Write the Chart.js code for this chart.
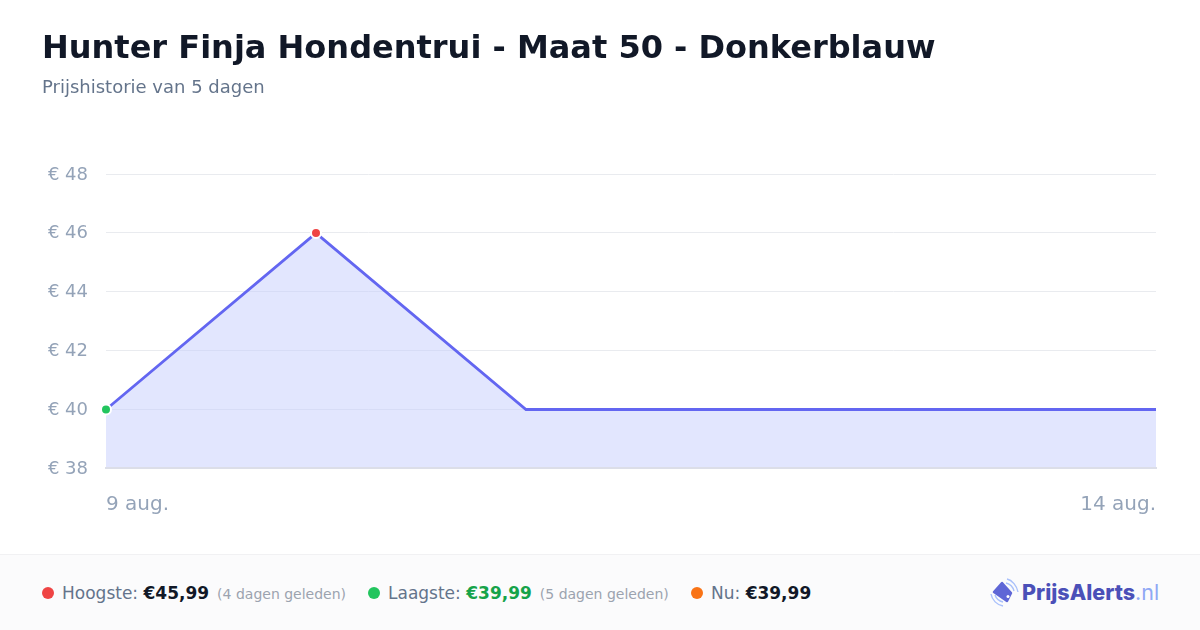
<!DOCTYPE html>
<html lang="nl"><head><meta charset="utf-8">
<script src="https://cdn.jsdelivr.net/npm/chart.js@4"></script>
<style>
html,body{margin:0;padding:0;background:#fff;width:1200px;height:630px;overflow:hidden;font-family:"DejaVu Sans",sans-serif}
#wrap{position:absolute;left:0;top:0;width:1200px;height:630px}
canvas{position:absolute;left:0;top:0}
h1{position:absolute;left:42px;top:28px;margin:0;font-size:32px;line-height:38px;font-weight:700;color:#111827;white-space:nowrap}
#sub{position:absolute;left:42px;top:76px;font-size:18px;line-height:22px;color:#64748b;white-space:nowrap}
#foot{position:absolute;left:0;top:554px;width:1200px;height:76px;background:#fbfbfc;border-top:1px solid #f1f1f3;box-sizing:border-box}
.it{position:absolute;top:27px;font-size:17px;line-height:22px;color:#64748b;white-space:nowrap}
.it b{font-weight:700;color:#111827;font-size:17px}
.it small{font-size:14px;color:#9ca3af;margin-left:2.6px}
.dot{position:absolute;top:32px;width:12px;height:12px;border-radius:50%}
#logo{position:absolute;left:1022px;top:23px;font-family:Inter,sans-serif;font-weight:800;font-size:21.5px;line-height:28px;color:#4b50b8;white-space:nowrap}
#logo span{font-weight:400;color:#8fa8f5}
svg{position:absolute;left:988px;top:22px}
</style></head><body>
<div id="wrap"><canvas id="c" width="1200" height="630"></canvas>
<h1>Hunter Finja Hondentrui - Maat 50 - Donkerblauw</h1>
<div id="sub">Prijshistorie van 5 dagen</div>
<div id="foot">
<div class="dot" style="left:42px;background:#ef4444"></div>
<div class="it" style="left:62px">Hoogste: <b>€45,99</b> <small>(4 dagen geleden)</small></div>
<div class="dot" style="left:368px;background:#22c55e"></div>
<div class="it" style="left:388px">Laagste: <b style="color:#16a34a">€39,99</b> <small>(5 dagen geleden)</small></div>
<div class="dot" style="left:691px;background:#f97316"></div>
<div class="it" style="left:711px">Nu: <b>€39,99</b></div>
<svg width="32" height="32" viewBox="0 0 32 32" fill="none">
<path d="M14 6 L23 16 L19 24 L6 15 Z" fill="#5f66d6" stroke="#5f66d6" stroke-width="2.5" stroke-linejoin="round"/>
<circle cx="20" cy="19.5" r="1.5" fill="#fff"/>
<path d="M19 2 C24 3 29 9 30 15" stroke="#a9c0fb" stroke-width="1.4"/>
<path d="M18 6 C22 7 25 10 26 14" stroke="#a9c0fb" stroke-width="1.4"/>
<path d="M7 18 C8 21 11 24 15 25" stroke="#a9c0fb" stroke-width="1.4"/>
<path d="M3 17 C4 23 9 28 15 29" stroke="#a9c0fb" stroke-width="1.4"/>
</svg>
<div id="logo">PrijsAlerts<span>.nl</span></div>
</div></div>
<script>
const categories=['9 aug.','10 aug.','11 aug.','12 aug.','13 aug.','14 aug.'];
const prices=[39.99,45.99,39.99,39.99,39.99,39.99];
const pointColors=['#22c55e','#ef4444','#6366f1','#6366f1','#6366f1','#6366f1'];
const pointRadii=[5,5,0,0,0,0];
const yMin=38,yMax=48,yStep=2;
const nudgeYLabels={id:'nudgeYLabels',beforeDraw(chart){
  chart.scales.y.getLabelItems().forEach(item=>{item.options.translation[1]+=1;});
}};
new Chart(document.getElementById('c'),{
 type:'line',
 plugins:[nudgeYLabels],
 data:{labels:categories,datasets:[{data:prices,borderColor:'#6366f1',borderWidth:2.8,tension:0,
  backgroundColor:'rgba(197,205,254,0.5)',fill:'origin',pointBackgroundColor:pointColors,pointBorderColor:'#ffffff',
  pointBorderWidth:2,pointRadius:pointRadii,pointHoverRadius:pointRadii,clip:false}]},
 options:{responsive:false,animation:false,
  layout:{padding:{left:42,right:44,top:174,bottom:110}},
  plugins:{legend:{display:false},tooltip:{enabled:false},title:{display:false}},
  scales:{
   x:{grid:{display:false},border:{display:true,color:'#dcdee8',width:2,z:1},
    afterFit(s){s.height=52},
    ticks:{autoSkip:false,maxRotation:0,align:'inner',padding:17,color:'#94a3b8',font:{family:'DejaVu Sans',size:20},
     callback(v,i,t){return (i===0||i===t.length-1)?this.getLabelForValue(v):''}}},
   y:{min:yMin,max:yMax,grid:{color:'#e9ebef',lineWidth:1,drawTicks:false},border:{display:false},
    afterFit(s){s.width=64},
    ticks:{stepSize:yStep,padding:18,color:'#94a3b8',font:{family:'DejaVu Sans',size:18},
     callback(v){return '€ '+v}}}
  }}
});
</script></body></html>
